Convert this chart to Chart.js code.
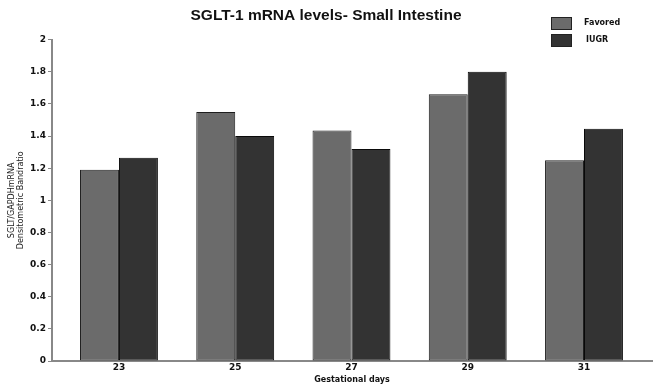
<!DOCTYPE html>
<html>
<head>
<meta charset="utf-8">
<script src="https://cdn.jsdelivr.net/npm/chart.js@4"></script>
<style>
  html, body { margin: 0; padding: 0; background: #fff; }
  #wrap { width: 656px; height: 385px; }
</style>
</head>
<body>
<div id="wrap"><canvas id="sgltChart" width="656" height="385"></canvas></div>
<script>
const days = ['23', '25', '27', '29', '31'];
const favored = [1.19, 1.55, 1.435, 1.66, 1.25];
const iugr = [1.265, 1.4, 1.32, 1.80, 1.445];
const yTicks = [0, 0.2, 0.4, 0.6, 0.8, 1, 1.2, 1.4, 1.6, 1.8, 2];

// small legend drawn at top right, stacked
const cornerLegend = {
    id: 'cornerLegend',
    afterDraw(chart) {
        const c = chart.ctx;
        c.save();
        c.font = 'bold 8px "DejaVu Sans"';
        c.textBaseline = 'middle';
        chart.data.datasets.forEach((ds, i) => {
            const y = 17 + i * 17;
            c.fillStyle = ds.backgroundColor;
            c.strokeStyle = '#222';
            c.lineWidth = 1;
            c.fillRect(551.5, y + 0.5, 20, 12);
            c.strokeRect(551.5, y + 0.5, 20, 12);
            c.fillStyle = '#111';
            c.fillText(ds.label, 584 + i * 2, y + 6);
        });
        c.restore();
    }
};

const ctx = document.getElementById('sgltChart').getContext('2d');
new Chart(ctx, {
    type: 'bar',
    data: {
        datasets: [{
            label: 'Favored',
            data: favored.map((v, i) => ({ x: i, y: v })),
            backgroundColor: '#6b6b6b',
            borderColor: '#1e1e1e',
            borderWidth: 1,
            borderSkipped: false
        }, {
            label: 'IUGR',
            data: iugr.map((v, i) => ({ x: i, y: v })),
            backgroundColor: '#333333',
            borderColor: '#0a0a0a',
            borderWidth: 1,
            borderSkipped: false
        }]
    },
    plugins: [cornerLegend],
    options: {
        responsive: false,
        animation: false,
        layout: { padding: { left: 0, right: 4, top: 0, bottom: 0 } },
        datasets: { bar: { categoryPercentage: 0.67, barPercentage: 1.0 } },
        plugins: {
            legend: { display: false },
            tooltip: { enabled: false },
            title: {
                display: true,
                text: 'SGLT-1 mRNA levels- Small Intestine',
                color: '#111',
                font: { family: '"Liberation Sans", Arial', size: 15.5, weight: 'bold' },
                padding: { top: 6, bottom: 15 }
            }
        },
        scales: {
            x: {
                type: 'linear',
                offset: false,
                bounds: 'data',
                min: -0.576,
                max: 4.585,
                afterBuildTicks: s => { s.ticks = days.map((d, i) => ({ value: i })); },
                afterFit: s => { s.height = 24; },
                grid: { display: false, drawTicks: false },
                border: { color: '#888', width: 2 },
                ticks: {
                    callback: v => days[v],
                    color: '#111',
                    padding: 1,
                    maxRotation: 0,
                    font: { family: '"DejaVu Sans"', size: 9, weight: 'bold' }
                },
                title: {
                    display: true,
                    text: 'Gestational days',
                    color: '#111',
                    padding: 0,
                    font: { family: '"DejaVu Sans"', size: 8, weight: 'bold' }
                }
            },
            y: {
                min: 0,
                max: 2,
                afterBuildTicks: s => { s.ticks = yTicks.map(v => ({ value: v })); },
                afterFit: s => { s.width = 52; },
                grid: { drawOnChartArea: false, tickLength: 4, color: '#888' },
                border: { color: '#888', width: 2 },
                ticks: {
                    callback: v => String(+v.toFixed(1)),
                    color: '#111',
                    padding: 2,
                    font: { family: '"DejaVu Sans"', size: 9, weight: 'bold' }
                },
                title: {
                    display: true,
                    text: ['SGLT/GAPDHmRNA', 'Densitometric Bandratio'],
                    color: '#222',
                    padding: { top: 7, bottom: 2 },
                    font: { family: '"DejaVu Sans"', size: 8 }
                }
            }
        }
    }
});
</script>
</body>
</html>
